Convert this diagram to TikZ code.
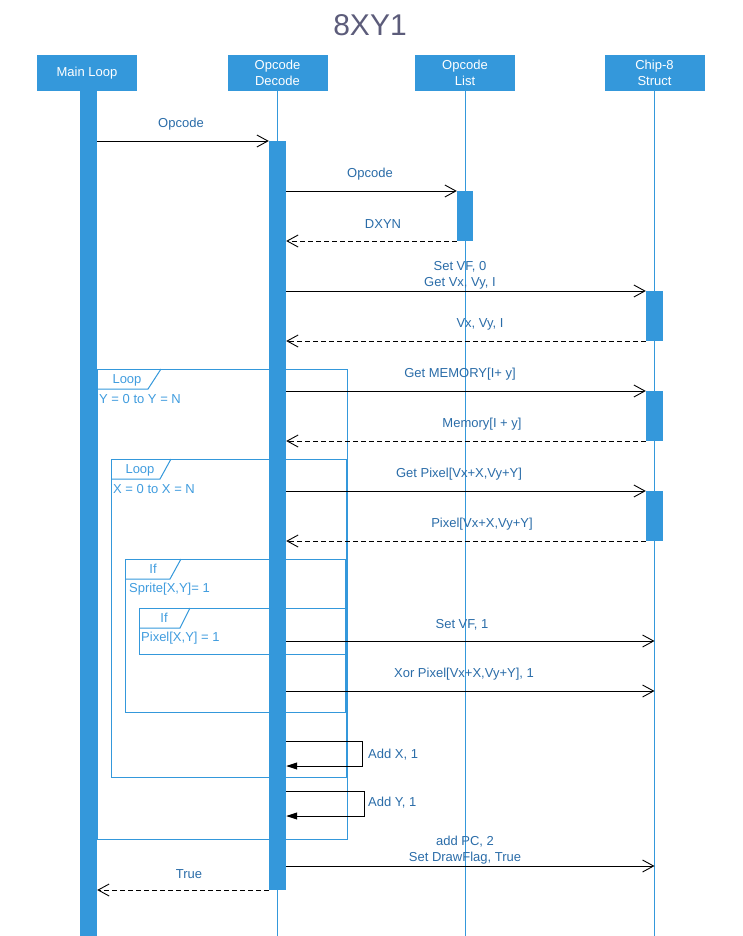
\documentclass[tikz,border=0pt]{standalone}
\usepackage{fontspec}
\setmainfont{Liberation Sans}
\usetikzlibrary{arrows.meta}
\definecolor{lanec}{RGB}{52,152,219}
\definecolor{msgtext}{RGB}{42,108,168}
\definecolor{frametext}{RGB}{64,156,222}
\definecolor{titlec}{RGB}{92,92,122}
\begin{document}
\begin{tikzpicture}[x=1pt,y=-1pt,
  every node/.style={inner sep=0pt, font=\fontsize{13}{16}\selectfont},
  header/.style={fill=lanec, text=white, minimum width=100pt, minimum height=36pt, align=center, font=\fontsize{13}{16}\selectfont},
  actbar/.style={fill=lanec, minimum width=17pt},
  lifeline/.style={draw=lanec, line width=1pt},
  msg/.style={draw=black, line width=0.9pt, -{Straight Barb[length=11pt,width=12pt,line width=0.9pt]}},
  reply/.style={msg, dash pattern=on 5pt off 3pt},
  selfmsg/.style={draw=black, line width=0.9pt, -{Triangle[length=11pt,width=7pt]}},
  msglabel/.style={text=msgtext, align=center, yshift=-1.5pt},
  frame/.style={draw=lanec, line width=1pt},
  framelabel/.style={text=frametext, yshift=-1pt},
]
\useasboundingbox (0,0) rectangle (742,936);

% title
\node[text=titlec, font=\fontsize{30}{34}\selectfont] (title) at (370,25) {8XY1};

% participants
\node[header] (hMain)   at (87,73)    {Main Loop};
\node[header] (hDecode) at (277.5,73) {Opcode\\Decode};
\node[header] (hList)   at (465,73)   {Opcode\\List};
\node[header] (hStruct) at (654.5,73) {Chip-8\\Struct};

% lifelines
\draw[lifeline] (hDecode.south) -- (hDecode.south |- 0,936);
\draw[lifeline] (hList.south)   -- (hList.south |- 0,936);
\draw[lifeline] (hStruct.south) -- (hStruct.south |- 0,936);

% activation bars
\node[actbar, minimum height=845pt] (aMain) at (88.5,513.5) {};
\node[actbar, minimum height=749pt] (aDec)  at (277.5,515.5) {};
\node[actbar, minimum width=16pt, minimum height=50pt] (aList) at (465,216) {};
\node[actbar, minimum height=50pt] (aS1) at (654.5,316) {};
\node[actbar, minimum height=50pt] (aS2) at (654.5,416) {};
\node[actbar, minimum height=50pt] (aS3) at (654.5,516) {};

% combined fragments
\draw[frame] (97,369) rectangle (347,839);
\draw[frame] (97,389) -- (148,389) -- (161,369);
\node[framelabel] (lpY) at (127,379) {Loop};
\node[framelabel, anchor=west] (cndY) at (99,398) {Y = 0 to Y = N};

\draw[frame] (111,459) rectangle (346,777);
\draw[frame] (111,479) -- (160,479) -- (171,459);
\node[framelabel] (lpX) at (140,469) {Loop};
\node[framelabel, anchor=west] (cndX) at (113,488) {X = 0 to X = N};

\draw[frame] (125,559) rectangle (345,712);
\draw[frame] (125,579) -- (170,579) -- (181,559);
\node[framelabel] (ifA) at (153,568) {If};
\node[framelabel, anchor=west] (cndA) at (129,588) {Sprite[X,Y]= 1};

\draw[frame] (139,608) rectangle (345,654);
\draw[frame] (139,628) -- (180,628) -- (190,608);
\node[framelabel] (ifB) at (164,617) {If};
\node[framelabel, anchor=west] (cndB) at (141,637) {Pixel[X,Y] = 1};

% messages
\draw[msg] (aMain.east |- 0,141) -- (aDec.west |- 0,141);
\node[msglabel] (m1) at (181,123) {Opcode};

\draw[msg] (aDec.east |- 0,191) -- (aList.west |- 0,191);
\node[msglabel] (m2) at (370,173) {Opcode};

\draw[reply] (aList.west |- 0,241) -- (aDec.east |- 0,241);
\node[msglabel] (m3) at (383,223) {DXYN};

\draw[msg] (aDec.east |- 0,291) -- (aS1.west |- 0,291);
\node[msglabel] (m4) at (460,274) {Set VF, 0\\Get Vx, Vy, I};

\draw[reply] (aS1.west |- 0,341) -- (aDec.east |- 0,341);
\node[msglabel] (m5) at (480,323) {Vx, Vy, I};

\draw[msg] (aDec.east |- 0,391) -- (aS2.west |- 0,391);
\node[msglabel] (m6) at (460,373) {Get MEMORY[I+ y]};

\draw[reply] (aS2.west |- 0,441) -- (aDec.east |- 0,441);
\node[msglabel] (m7) at (482,423) {Memory[I + y]};

\draw[msg] (aDec.east |- 0,491) -- (aS3.west |- 0,491);
\node[msglabel] (m8) at (459,473) {Get Pixel[Vx+X,Vy+Y]};

\draw[reply] (aS3.west |- 0,541) -- (aDec.east |- 0,541);
\node[msglabel] (m9) at (482,523) {Pixel[Vx+X,Vy+Y]};

\draw[msg] (aDec.east |- 0,641) -- (hStruct.south |- 0,641);
\node[msglabel] (m10) at (462,623) {Set VF, 1};

\draw[msg] (aDec.east |- 0,691) -- (hStruct.south |- 0,691);
\node[msglabel] (m11) at (464,673) {Xor Pixel[Vx+X,Vy+Y], 1};

\draw[selfmsg] (aDec.east |- 0,741) -- (362,741) |- (aDec.east |- 0,766);
\node[msglabel, anchor=west] (m12) at (368,753) {Add X, 1};

\draw[selfmsg] (aDec.east |- 0,791) -- (364,791) |- (aDec.east |- 0,816);
\node[msglabel, anchor=west] (m13) at (368,801) {Add Y, 1};

\draw[msg] (aDec.east |- 0,866) -- (hStruct.south |- 0,866);
\node[msglabel] (m14) at (465,849) {add PC, 2\\Set DrawFlag, True};

\draw[reply] (aDec.west |- 0,890) -- (aMain.east |- 0,890);
\node[msglabel] (m15) at (189,873) {True};
\end{tikzpicture}
\end{document}
